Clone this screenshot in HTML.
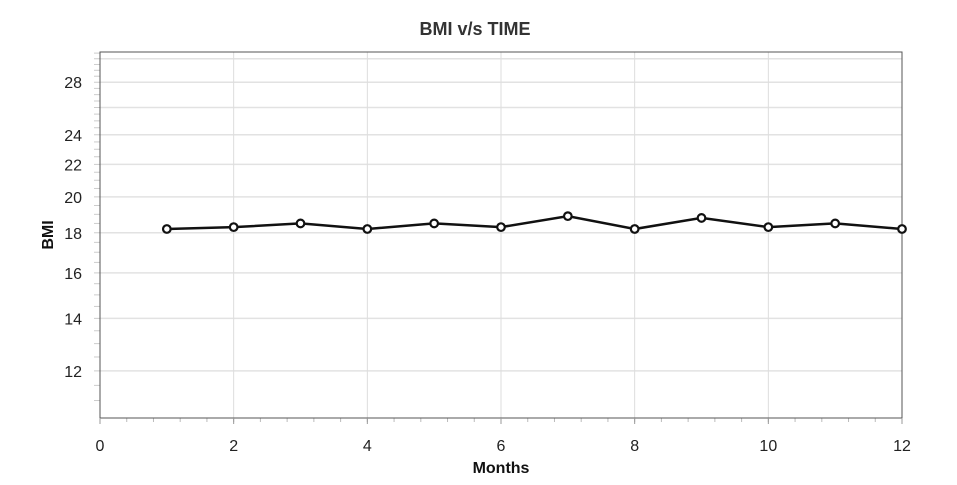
<!DOCTYPE html>
<html><head><meta charset="utf-8"><style>
body{margin:0;background:#fff;font-family:"Liberation Sans",Arial,sans-serif}
</style></head><body>
<svg width="957" height="480" xmlns="http://www.w3.org/2000/svg">
<text x="475" y="35" text-anchor="middle" font-size="18" font-weight="bold" fill="#333">BMI v/s TIME</text>
<g id="grid"></g><g id="axes"></g><g id="series"></g>
<text x="501" y="473" text-anchor="middle" font-size="16" font-weight="bold" fill="#111">Months</text>
<text transform="translate(53,235) rotate(-90)" text-anchor="middle" font-size="16" font-weight="bold" fill="#111">BMI</text>
</svg>
<script>
const months=[1,2,3,4,5,6,7,8,9,10,11,12];
const bmiValues=[18.2,18.3,18.5,18.2,18.5,18.3,18.9,18.2,18.8,18.3,18.5,18.2];
const xTicks=[0,2,4,6,8,10,12];
const yTicks=[12,14,16,18,20,22,24,28];
const yGrid=[12,14,16,18,20,22,24,26,28,30];
const L=100,R=902,T=52,B=418,yMin=10.45,yMax=30.6;
const ns="http://www.w3.org/2000/svg";
const X=v=>L+(v-0)/(12-0)*(R-L);
const Y=v=>B-(Math.log(v)-Math.log(yMin))/(Math.log(yMax)-Math.log(yMin))*(B-T);
function mk(p,t,a){const e=document.createElementNS(ns,t);for(const k in a)e.setAttribute(k,a[k]);p.appendChild(e);return e;}
const g=document.getElementById('grid'),ax=document.getElementById('axes'),s=document.getElementById('series');
yGrid.forEach(v=>{const l=mk(g,'line',{x1:L,x2:R,y1:Y(v),y2:Y(v),stroke:'#e2e2e2','stroke-width':1.5});

});
xTicks.forEach(v=>{if(v>0&&v<12){const l=mk(g,'line',{x1:X(v),x2:X(v),y1:T,y2:B,stroke:'#ddd'});

}});
for(let v=11;v<=30.5;v+=0.5){mk(ax,'line',{x1:L-6,x2:L,y1:Y(v),y2:Y(v),stroke:'#ccc'});}
for(let v=0.4;v<12;v+=0.4){mk(ax,'line',{x1:X(v),x2:X(v),y1:B,y2:B+4,stroke:'#bbb'});}
const fr=mk(ax,'rect',{x:L,y:T,width:R-L,height:B-T,fill:'none',stroke:'#555','stroke-width':1});


yTicks.forEach(v=>{const t=mk(ax,'text',{x:L-18,y:Y(v)+6,'text-anchor':'end','font-size':16,fill:'#222'});t.textContent=v;

});
xTicks.forEach(v=>{mk(ax,'line',{x1:X(v),x2:X(v),y1:B,y2:B+6,stroke:'#999'});
const t=mk(ax,'text',{x:X(v),y:B+33,'text-anchor':'middle','font-size':16,fill:'#222'});t.textContent=v;

});
const ln=mk(s,'polyline',{points:months.map((m,i)=>X(m)+','+Y(bmiValues[i])).join(' '),fill:'none',stroke:'#111','stroke-width':2.5});


months.forEach((m,i)=>{const c=mk(s,'circle',{cx:X(m),cy:Y(bmiValues[i]),r:3.8,fill:'#fff',stroke:'#111','stroke-width':2.2});

});
</script>
</body></html>
